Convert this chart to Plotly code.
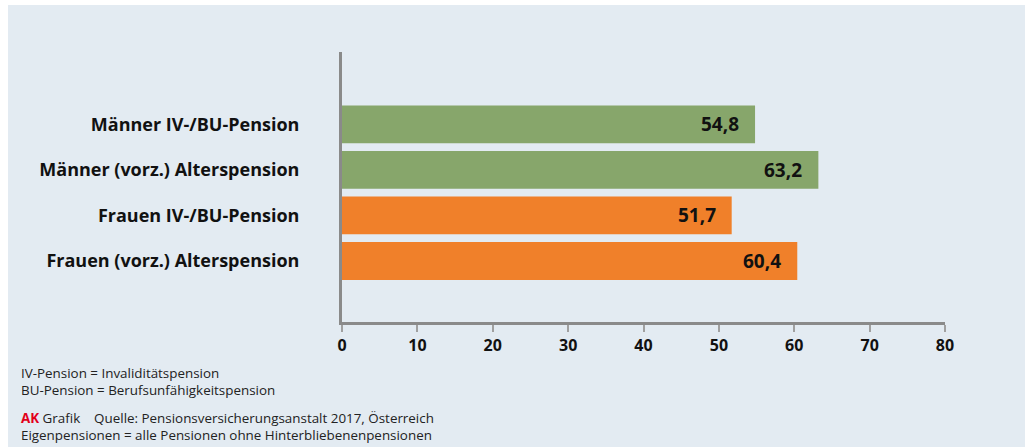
import plotly.graph_objects as go

categories = ["Männer IV-/BU-Pension", "Männer (vorz.) Alterspension",
              "Frauen IV-/BU-Pension", "Frauen (vorz.) Alterspension"]
values = [54.8, 63.2, 51.7, 60.4]
value_labels = ["54,8", "63,2", "51,7", "60,4"]
bar_colors = ["#87a66b", "#87a66b", "#f0802a", "#f0802a"]
x_ticks = [0, 10, 20, 30, 40, 50, 60, 70, 80]

footer_block_1 = ["IV-Pension = Invaliditätspension",
                  "BU-Pension = Berufsunfähigkeitspension"]
footer_block_2 = ["<span style='color:#e2001a'><b>AK</b></span> Grafik    Quelle: Pensionsversicherungsanstalt 2017, Österreich",
                  "Eigenpensionen = alle Pensionen ohne Hinterbliebenenpensionen"]

W, H = 1027, 447
L, R, T, B = 342, 82, 52, 125
PW, PH = W - L - R, H - T - B
BG = "#e3ebf2"
FONT = "Open Sans"

def px_x(px):
    return (px - L) / PW

def px_y(py):
    return (H - B - py) / PH

fig = go.Figure()
fig.add_trace(go.Bar(
    y=categories, x=values, orientation="h",
    marker=dict(color=bar_colors, line=dict(width=0)),
    hoverinfo="skip",
))

annotations = []
for c, v, t in zip(categories, values, value_labels):
    annotations.append(dict(x=v, y=c, xref="x", yref="y", text=t, showarrow=False,
                            xanchor="right", xshift=-14,
                            font=dict(family=FONT, size=19, color="#111111", weight="bold")))

for block, py in [(footer_block_1, 381), (footer_block_2, 426)]:
    annotations.append(dict(x=px_x(19), y=px_y(py), xref="paper", yref="paper",
                            text="<br>".join(block), align="left",
                            showarrow=False, xanchor="left", yanchor="middle",
                            font=dict(family=FONT, size=13.4, color="#222222")))

fig.update_layout(
    width=W, height=H,
    margin=dict(l=L, r=R, t=T, b=B, pad=0),
    paper_bgcolor="white", plot_bgcolor=BG,
    showlegend=False, bargap=0.17,
    shapes=[dict(type="rect", xref="paper", yref="paper", layer="below",
                 x0=px_x(8), x1=px_x(1025), y0=px_y(H + 5), y1=px_y(5),
                 fillcolor=BG, line=dict(width=0))],
    annotations=annotations,
    xaxis=dict(range=[0, 80], tickvals=x_ticks, ticktext=[str(v) for v in x_ticks],
               showgrid=False, zeroline=False, showline=True, linecolor="#8a8a8a", linewidth=3,
               ticks="outside", ticklen=7, tickwidth=2, tickcolor="#a0a0a0",
               tickfont=dict(family=FONT, size=16, color="#111111", weight="bold"),
               fixedrange=True),
    yaxis=dict(categoryorder="array", categoryarray=categories, range=[4.34, -1.59],
               showgrid=False, zeroline=False, showline=True, linecolor="#8a8a8a", linewidth=3,
               ticks="", ticklabelstandoff=36,
               tickfont=dict(family=FONT, size=18, color="#111111", weight="bold"),
               fixedrange=True),
)

fig.write_html("out.html", config={"displayModeBar": False},
               post_script="document.body.style.margin='0';")
